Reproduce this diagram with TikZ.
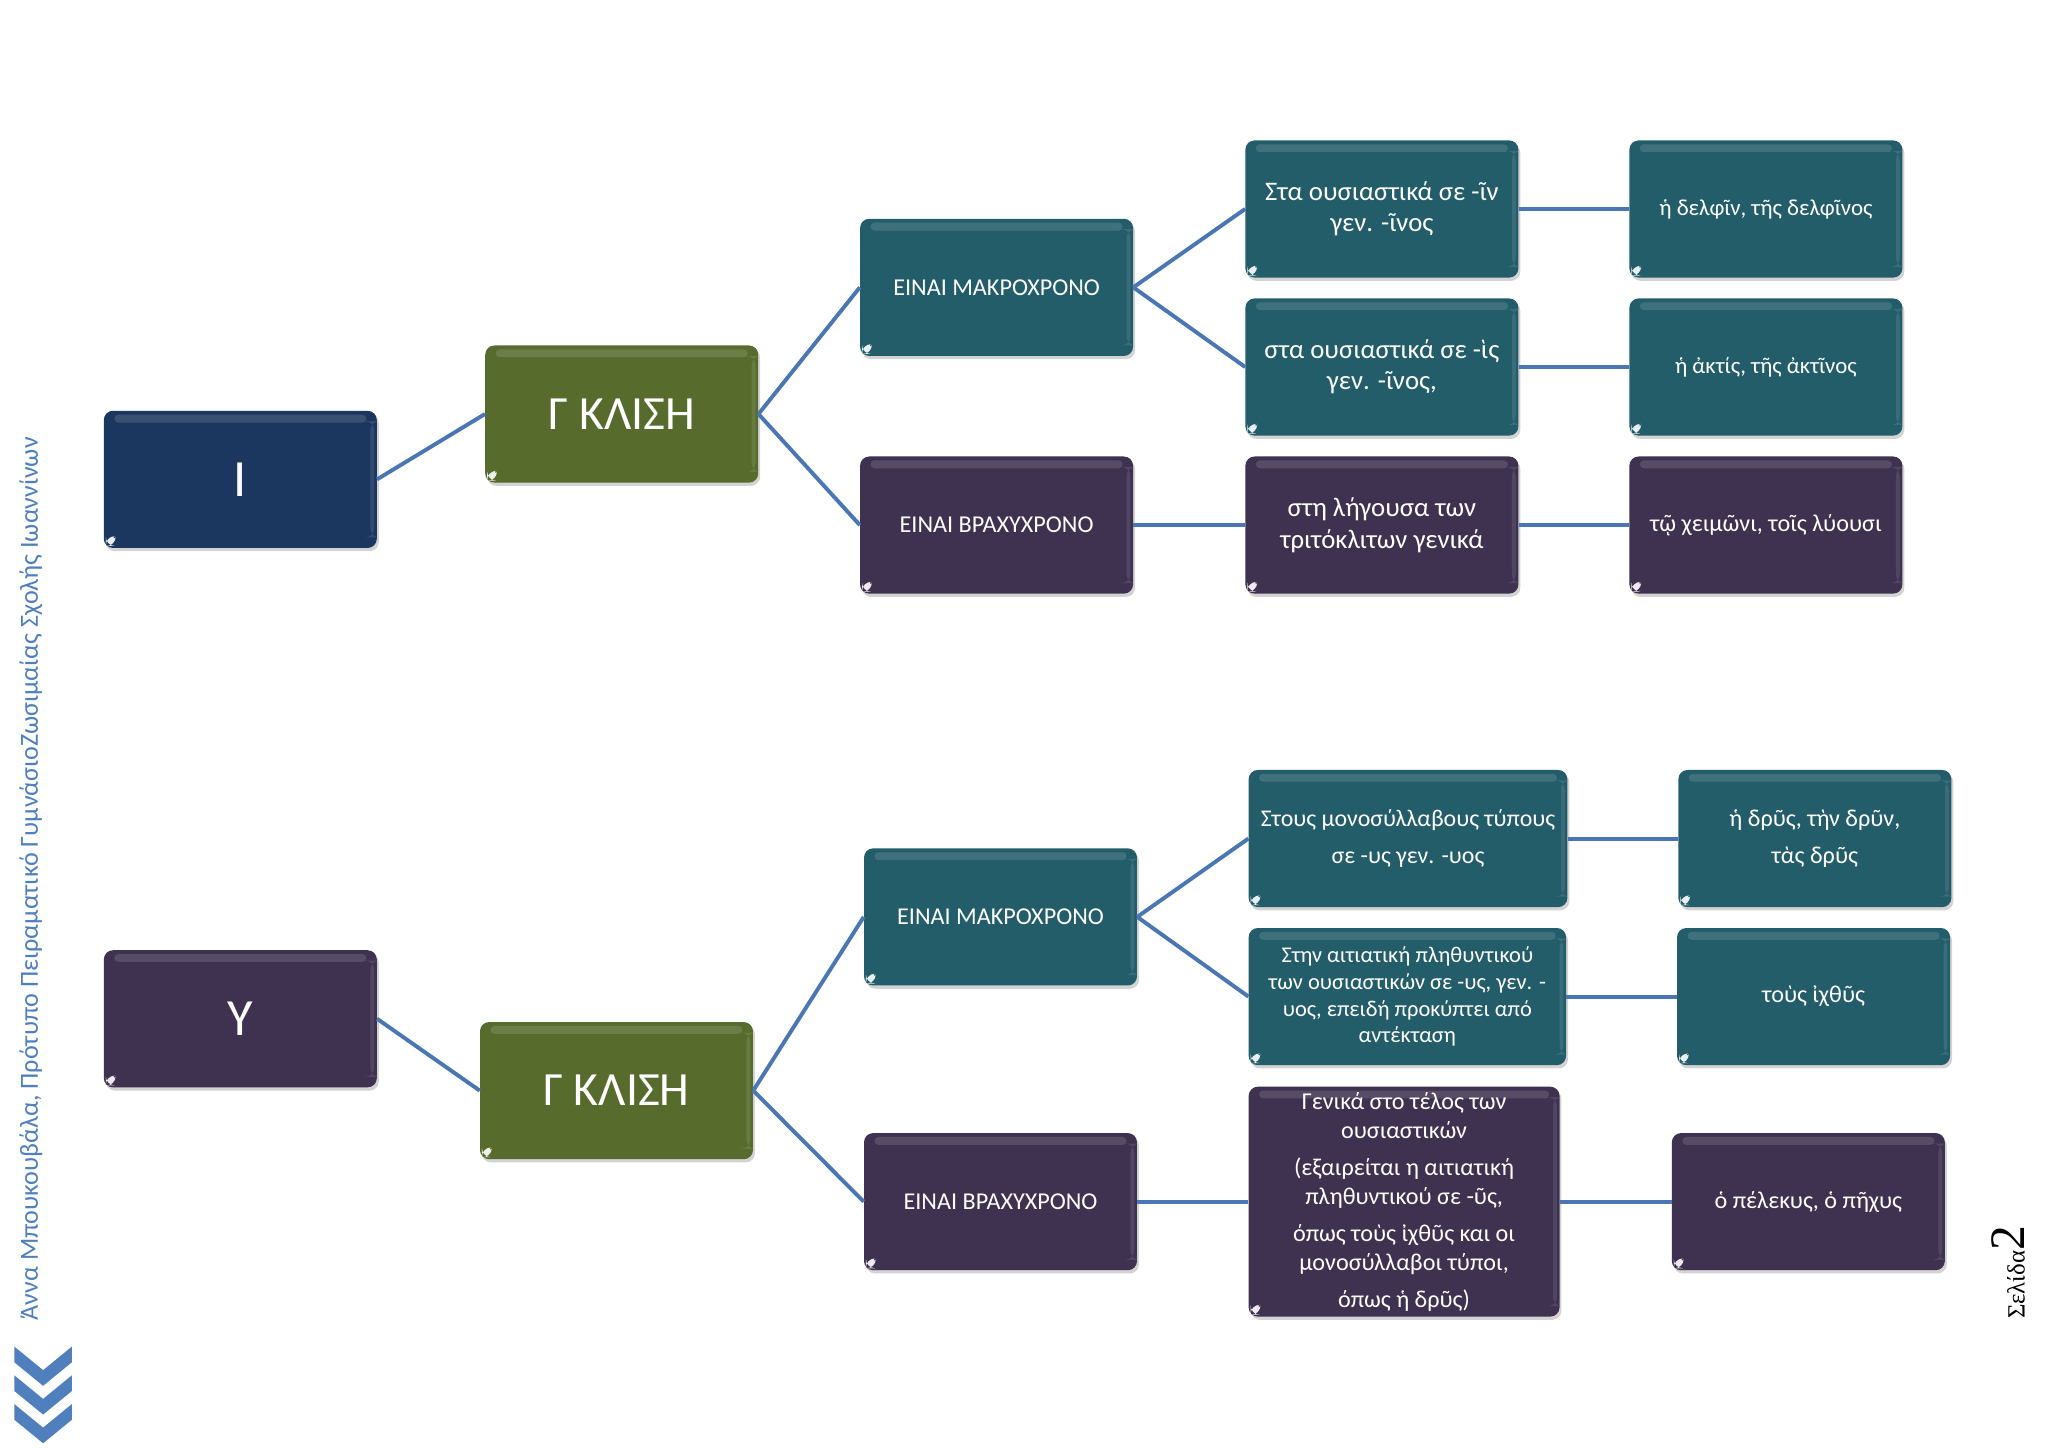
\documentclass[tikz,border=0pt]{standalone}
\usepackage{fontspec}
\setmainfont{Carlito}
\newfontfamily\serifgr{Liberation Serif}
\usetikzlibrary{shadows}
\definecolor{cblue}{HTML}{1C375F}
\definecolor{cgreen}{HTML}{566B2C}
\definecolor{cteal}{HTML}{235D6A}
\definecolor{cpurple}{HTML}{3E3250}
\definecolor{cline}{HTML}{4A77B4}
\definecolor{cmark}{HTML}{4F7FBD}
\tikzset{
  box/.style={rounded corners=7pt, minimum width=209pt, minimum height=105pt,
    text=white, align=center, inner sep=3pt,
    drop shadow={shadow xshift=1.5pt, shadow yshift=-2.5pt, opacity=0.35},
    path picture={
      \fill[white, opacity=0.13, rounded corners=3pt]
        ([xshift=8pt,yshift=-3pt]path picture bounding box.north west) rectangle
        ([xshift=-8pt,yshift=-9pt]path picture bounding box.north east);
      \fill[white, opacity=0.10]
        ([xshift=-5pt,yshift=8pt]path picture bounding box.south east) rectangle
        ([xshift=-2pt,yshift=-8pt]path picture bounding box.north east);
      \fill[white, opacity=0.9]
        ([xshift=1.5pt,yshift=1.5pt]path picture bounding box.south west) --
        ([xshift=9pt,yshift=1.5pt]path picture bounding box.south west)
        arc[start angle=0, end angle=90, radius=7.5pt] -- cycle;
    }},
  bluebox/.style={box, fill=cblue},
  greenbox/.style={box, fill=cgreen},
  tealbox/.style={box, fill=cteal},
  purplebox/.style={box, fill=cpurple},
  conn/.style={draw=cline, line width=3pt},
  chev/.style={fill=cmark},
}
\begin{document}
\begin{tikzpicture}[x=1pt,y=-1pt]
\useasboundingbox (0,0) rectangle (1568,1108.6);

% ---------- top tree ----------
\node[bluebox, font=\fontsize{40}{44}\selectfont] (I) at (184,367) {Ι};
\node[greenbox, font=\fontsize{36.5}{40}\selectfont] (g1) at (476,317) {Γ ΚΛΙΣΗ};
\node[tealbox, font=\fontsize{18.5}{22}\selectfont] (m1) at (763,220) {ΕΙΝΑΙ ΜΑΚΡΟΧΡΟΝΟ};
\node[purplebox, font=\fontsize{18.5}{22}\selectfont] (b1) at (763,402) {ΕΙΝΑΙ ΒΡΑΧΥΧΡΟΝΟ};
\node[tealbox, font=\fontsize{20.5}{24}\selectfont] (a1) at (1058,160) {Στα ουσιαστικά σε -ῖν\\γεν. -ῖνος};
\node[tealbox, font=\fontsize{20.5}{24}\selectfont] (a2) at (1058,281) {στα ουσιαστικά σε -ὶς\\γεν. -ῖνος,};
\node[purplebox, font=\fontsize{20.5}{24}\selectfont] (a3) at (1058,402) {στη λήγουσα των\\τριτόκλιτων γενικά};
\node[tealbox, font=\fontsize{17.5}{21}\selectfont] (e1) at (1352,160) {ἡ δελφῖν, τῆς δελφῖνος};
\node[tealbox, font=\fontsize{17.5}{21}\selectfont] (e2) at (1352,281) {ἡ ἀκτίς, τῆς ἀκτῖνος};
\node[purplebox, font=\fontsize{18.5}{21}\selectfont] (e3) at (1352,402) {τῷ χειμῶνι, τοῖς λύουσι};

% ---------- bottom tree ----------
\node[purplebox, font=\fontsize{40}{44}\selectfont] (Y) at (184,780) {Υ};
\node[greenbox, font=\fontsize{36.5}{40}\selectfont] (g2) at (472,835) {Γ ΚΛΙΣΗ};
\node[tealbox, font=\fontsize{18.5}{22}\selectfont] (m2) at (766,702) {ΕΙΝΑΙ ΜΑΚΡΟΧΡΟΝΟ};
\node[purplebox, font=\fontsize{18.5}{22}\selectfont] (b2) at (766,920) {ΕΙΝΑΙ ΒΡΑΧΥΧΡΟΝΟ};
\node[tealbox, minimum width=244pt, font=\fontsize{18.3}{29}\selectfont] (c1) at (1078,642) {Στους μονοσύλλαβους τύπους\\σε -υς γεν. -υος};
\node[tealbox, minimum width=243pt, font=\fontsize{17.2}{20.5}\selectfont] (c2) at (1077.5,763) {Στην αιτιατική πληθυντικού\\των ουσιαστικών σε -υς, γεν. -\\υος, επειδή προκύπτει από\\αντέκταση};
\node[purplebox, minimum width=238pt, minimum height=176pt, font=\fontsize{18.5}{22.5}\selectfont] (c3) at (1075,920) {Γενικά στο τέλος των\\ουσιαστικών\\[5.5pt](εξαιρείται η αιτιατική\\πληθυντικού σε -ῦς,\\[5.5pt]όπως τοὺς ἰχθῦς και οι\\μονοσύλλαβοι τύποι,\\[5.5pt]όπως ἡ δρῦς)};
\node[tealbox, font=\fontsize{18.5}{29}\selectfont] (f1) at (1389.5,642) {ἡ δρῦς, τὴν δρῦν,\\τὰς δρῦς};
\node[tealbox, font=\fontsize{18.5}{21}\selectfont] (f2) at (1388.5,763) {τοὺς ἰχθῦς};
\node[purplebox, font=\fontsize{18.5}{21}\selectfont] (f3) at (1384.5,920) {ὁ πέλεκυς, ὁ πῆχυς};

% ---------- connectors ----------
\draw[conn] (I.east) -- (g1.west);
\draw[conn] (g1.east) -- (m1.west);
\draw[conn] (g1.east) -- (b1.west);
\draw[conn] (m1.east) -- (a1.west);
\draw[conn] (m1.east) -- (a2.west);
\draw[conn] (b1.east) -- (a3.west);
\draw[conn] (a1.east) -- (e1.west);
\draw[conn] (a2.east) -- (e2.west);
\draw[conn] (a3.east) -- (e3.west);

\draw[conn] (Y.east) -- (g2.west);
\draw[conn] (g2.east) -- (m2.west);
\draw[conn] (g2.east) -- (b2.west);
\draw[conn] (m2.east) -- (c1.west);
\draw[conn] (m2.east) -- (c2.west);
\draw[conn] (b2.east) -- (c3.west);
\draw[conn] (c1.east) -- (f1.west);
\draw[conn] (c2.east) -- (f2.west);
\draw[conn] (c3.east) -- (f3.west);

% ---------- margin decorations ----------
\node[rotate=90, text=cmark, font=\fontsize{20}{24}\selectfont, anchor=base west, inner sep=0pt] (wm) at (29,1011)
  {Άννα Μπουκουβάλα, Πρότυπο Πειραματικό ΓυμνάσιοΖωσιμαίας Σχολής Ιωαννίνων};
\node[rotate=90, anchor=base west, inner sep=0pt] (pg) at (1550,1010)
  {\serifgr\fontsize{19}{24}\selectfont Σελίδα\fontsize{38}{44}\selectfont 2};

\foreach \dy in {0,22,44}{
  \fill[chev] (11,1031+\dy) -- (33,1049+\dy) -- (55,1031+\dy) -- (55,1043+\dy) -- (33,1061+\dy) -- (11,1043+\dy) -- cycle;
}
\end{tikzpicture}
\end{document}
